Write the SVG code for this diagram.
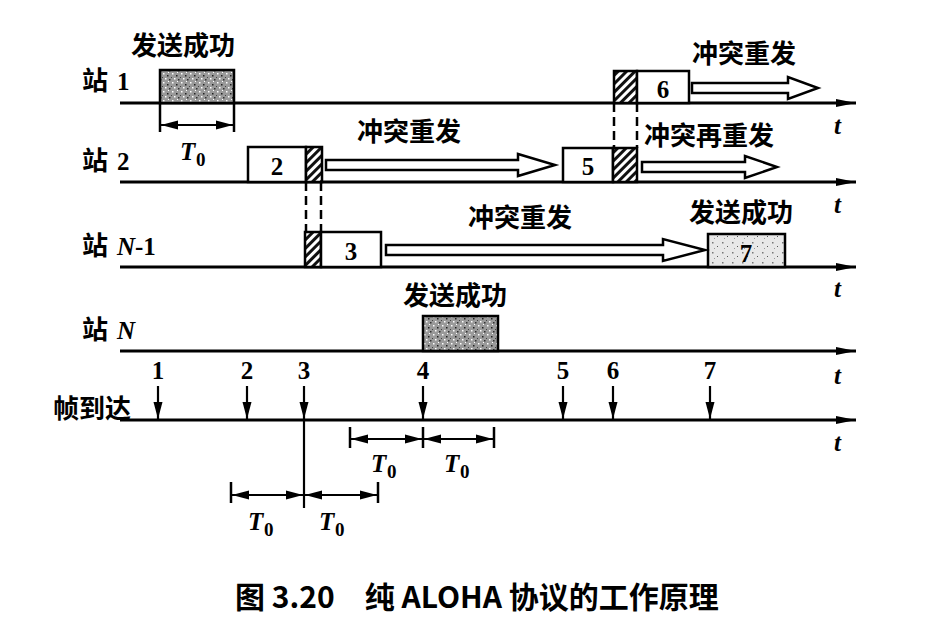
<svg xmlns="http://www.w3.org/2000/svg" width="951" height="619" viewBox="0 0 951 619">
<defs>
  <pattern id="hatch" width="6" height="6" patternUnits="userSpaceOnUse" patternTransform="rotate(45)">
    <rect width="6" height="6" fill="#fff"/>
    <rect width="3" height="6" fill="#111"/>
  </pattern>
  <pattern id="stipple" width="9" height="9" patternUnits="userSpaceOnUse">
    <rect width="9" height="9" fill="#9a9a9a"/>
    <rect x="1" y="1" width="1.5" height="1.5" fill="#fff"/>
    <rect x="5" y="3" width="1.5" height="1.5" fill="#222"/>
    <rect x="3" y="6" width="1.5" height="1.5" fill="#fff"/>
    <rect x="7" y="7" width="1.5" height="1.5" fill="#333"/>
    <rect x="6" y="0" width="1" height="1" fill="#fff"/>
    <rect x="0" y="5" width="1" height="1" fill="#444"/>
  </pattern>
  <pattern id="lightstip" width="10" height="10" patternUnits="userSpaceOnUse">
    <rect width="10" height="10" fill="#e8e8e8"/>
    <rect x="2" y="2" width="1.5" height="1.5" fill="#777"/>
    <rect x="7" y="6" width="1" height="1" fill="#555"/>
    <rect x="4" y="8" width="1" height="1" fill="#999"/>
  </pattern>
  <marker id="axh" viewBox="0 0 20 10" refX="20" refY="5" markerWidth="20" markerHeight="10" markerUnits="userSpaceOnUse" orient="auto">
    <path d="M0,1 L20,5 L0,9 Z" fill="#000"/>
  </marker>
  <marker id="arr" viewBox="0 0 17 11" refX="17" refY="5.5" markerWidth="17" markerHeight="11" markerUnits="userSpaceOnUse" orient="auto-start-reverse">
    <path d="M0,1 L17,5.5 L0,10 Z" fill="#000"/>
  </marker>
</defs>
<style>
  .axis{stroke:#000;stroke-width:3;fill:none}
  .box{stroke:#000;stroke-width:2.5;fill:#fff}
  .hat{stroke:#000;stroke-width:2.5;fill:url(#hatch)}
  .stip{stroke:#000;stroke-width:2.5;fill:url(#stipple)}
  .lstip{stroke:#000;stroke-width:2.5;fill:url(#lightstip)}
  .fat{stroke:#000;stroke-width:2.5;fill:#fff;stroke-linejoin:miter}
  .dash{stroke:#000;stroke-width:2.5;stroke-dasharray:9,5;fill:none}
  .dim{stroke:#000;stroke-width:2.2;fill:none}
  .tick{stroke:#000;stroke-width:2.5}
  .cn{font-family:"Noto Sans CJK SC","Liberation Sans",sans-serif;font-size:26px;font-weight:bold;fill:#000}
  .num{font-family:"Liberation Serif",serif;font-size:25px;font-weight:bold;fill:#000}
  .it{font-family:"Liberation Serif",serif;font-size:25px;font-style:italic;font-weight:bold;fill:#000}
  .sub{font-family:"Liberation Serif",serif;font-size:19px;font-weight:bold;fill:#000}
  .cap{font-family:"Noto Sans CJK SC","Liberation Serif",sans-serif;font-size:30px;font-weight:bold;fill:#000}
</style>

<g id="axes">
  <line class="axis" x1="120" y1="103" x2="856" y2="103" marker-end="url(#axh)"/>
  <line class="axis" x1="120" y1="182" x2="856" y2="182" marker-end="url(#axh)"/>
  <line class="axis" x1="120" y1="267" x2="856" y2="267" marker-end="url(#axh)"/>
  <line class="axis" x1="120" y1="351" x2="856" y2="351" marker-end="url(#axh)"/>
  <line class="axis" x1="120" y1="420" x2="856" y2="420" marker-end="url(#axh)"/>
  <text class="it" x="834" y="134">t</text>
  <text class="it" x="834" y="213">t</text>
  <text class="it" x="834" y="297">t</text>
  <text class="it" x="834" y="384">t</text>
  <text class="it" x="834" y="451">t</text>
</g>

<g id="station-1">
  <text class="cn" x="82" y="90">站</text>
  <text class="num" x="117" y="90">1</text>
  <text class="cn" x="131" y="55">发送成功</text>
  <rect class="stip" x="160" y="70" width="74" height="33"/>
  <rect class="hat" x="614" y="71" width="23" height="32"/>
  <rect class="box" x="637" y="71" width="52" height="32"/>
  <text class="num" x="663" y="98" text-anchor="middle">6</text>
  <text class="cn" x="692" y="63">冲突重发</text>
</g>

<g id="station-2">
  <text class="cn" x="82" y="170">站</text>
  <text class="num" x="117" y="170">2</text>
  <rect class="box" x="248" y="147" width="58" height="35"/>
  <text class="num" x="277" y="175" text-anchor="middle">2</text>
  <rect class="hat" x="306" y="147" width="16" height="35"/>
  <text class="cn" x="357" y="141">冲突重发</text>
  <rect class="box" x="563" y="148" width="50" height="34"/>
  <text class="num" x="588" y="175" text-anchor="middle">5</text>
  <rect class="hat" x="613" y="148" width="24" height="34"/>
  <text class="cn" x="644" y="145">冲突再重发</text>
</g>

<g id="station-n-1">
  <text class="cn" x="82" y="255">站</text>
  <text class="it" x="117" y="255">N</text>
  <text class="num" x="135" y="255">-1</text>
  <rect class="hat" x="305" y="232" width="16" height="35"/>
  <rect class="box" x="321" y="232" width="60" height="35"/>
  <text class="num" x="351" y="260" text-anchor="middle">3</text>
  <text class="cn" x="468" y="227">冲突重发</text>
  <text class="cn" x="689" y="222">发送成功</text>
  <rect class="lstip" x="708" y="234" width="77" height="33"/>
  <text class="num" x="746" y="262" text-anchor="middle">7</text>
</g>

<g id="station-n">
  <text class="cn" x="82" y="339">站</text>
  <text class="it" x="117" y="339">N</text>
  <text class="cn" x="403" y="305">发送成功</text>
  <rect class="stip" x="423" y="316" width="75" height="35"/>
</g>

<g id="frame-arrivals">
  <text class="cn" x="53" y="418">帧到达</text>
  <text class="num" x="158" y="379" text-anchor="middle">1</text>
  <text class="num" x="247" y="379" text-anchor="middle">2</text>
  <text class="num" x="304" y="379" text-anchor="middle">3</text>
  <text class="num" x="423" y="379" text-anchor="middle">4</text>
  <text class="num" x="563" y="379" text-anchor="middle">5</text>
  <text class="num" x="613" y="379" text-anchor="middle">6</text>
  <text class="num" x="710" y="379" text-anchor="middle">7</text>
</g>

<g id="connectors">
  <polygon class="fat" points="692,83 788,83 788,77 818,88 788,99 788,93 692,93"/>
  <polygon class="fat" points="326,160 518,160 518,154 555,165 518,176 518,170 326,170"/>
  <polygon class="fat" points="642,162 745,162 745,156 777,167 745,178 745,172 642,172"/>
  <polygon class="fat" points="386,245 663,245 663,239 705,250 663,261 663,255 386,255"/>
  <line class="dash" x1="614" y1="103" x2="614" y2="148"/>
  <line class="dash" x1="637" y1="103" x2="637" y2="148"/>
  <line class="dash" x1="306" y1="182" x2="306" y2="232"/>
  <line class="dash" x1="321" y1="182" x2="321" y2="232"/>
  <line class="tick" x1="160" y1="103" x2="160" y2="132"/>
  <line class="tick" x1="234" y1="103" x2="234" y2="132"/>
  <line class="dim" x1="161" y1="125" x2="233" y2="125" marker-start="url(#arr)" marker-end="url(#arr)"/>
  <text class="it" x="180" y="160">T</text><text class="sub" x="196" y="166">0</text>
  <line class="dim" x1="158" y1="386" x2="158" y2="419" marker-end="url(#arr)"/>
  <line class="dim" x1="247" y1="386" x2="247" y2="419" marker-end="url(#arr)"/>
  <line class="dim" x1="304" y1="386" x2="304" y2="419" marker-end="url(#arr)"/>
  <line class="dim" x1="423" y1="386" x2="423" y2="419" marker-end="url(#arr)"/>
  <line class="dim" x1="563" y1="386" x2="563" y2="419" marker-end="url(#arr)"/>
  <line class="dim" x1="613" y1="386" x2="613" y2="419" marker-end="url(#arr)"/>
  <line class="dim" x1="710" y1="386" x2="710" y2="419" marker-end="url(#arr)"/>
  <line class="dim" x1="304" y1="420" x2="304" y2="508"/>
  <line class="tick" x1="231" y1="482" x2="231" y2="503"/>
  <line class="tick" x1="378" y1="482" x2="378" y2="503"/>
  <line class="dim" x1="232" y1="495" x2="303" y2="495" marker-start="url(#arr)" marker-end="url(#arr)"/>
  <line class="dim" x1="305" y1="495" x2="377" y2="495" marker-start="url(#arr)" marker-end="url(#arr)"/>
  <text class="it" x="248" y="530">T</text><text class="sub" x="264" y="536">0</text>
  <text class="it" x="319" y="530">T</text><text class="sub" x="335" y="536">0</text>
  <line class="tick" x1="350" y1="427" x2="350" y2="448"/>
  <line class="tick" x1="423" y1="427" x2="423" y2="448"/>
  <line class="tick" x1="494" y1="427" x2="494" y2="448"/>
  <line class="dim" x1="351" y1="439" x2="422" y2="439" marker-start="url(#arr)" marker-end="url(#arr)"/>
  <line class="dim" x1="424" y1="439" x2="493" y2="439" marker-start="url(#arr)" marker-end="url(#arr)"/>
  <text class="it" x="371" y="472">T</text><text class="sub" x="387" y="478">0</text>
  <text class="it" x="444" y="472">T</text><text class="sub" x="460" y="478">0</text>
</g>

<text class="cap" x="235" y="608">图 3.20　纯 ALOHA 协议的工作原理</text>
</svg>
